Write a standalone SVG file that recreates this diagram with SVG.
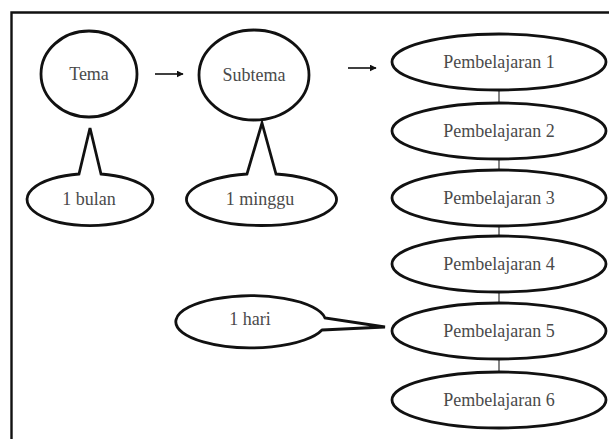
<svg xmlns="http://www.w3.org/2000/svg" width="609" height="439" viewBox="0 0 609 439">
<defs>
<style>
.n{fill:#fff;stroke:#111;stroke-width:2.8}
.t{font-family:'Liberation Serif',serif;font-size:18px;fill:#4a4a4a;text-anchor:middle;dominant-baseline:central}
.c{stroke:#333;stroke-width:1.2;fill:none}
.a{stroke:#111;stroke-width:1.6;fill:none}
</style>
<marker id="ah" viewBox="0 0 10 10" refX="9" refY="5" markerWidth="7" markerHeight="7" markerUnits="userSpaceOnUse" orient="auto">
<path d="M0,0 L10,5 L0,10 z" fill="#111"/>
</marker>
</defs>
<rect x="0" y="0" width="609" height="439" fill="#fff"/>
<path d="M11.5,450 V12.5 H620" fill="none" stroke="#111" stroke-width="2.4"/>
<g id="connectors">
<line class="a" x1="155" y1="74" x2="183" y2="74" marker-end="url(#ah)"/>
<line class="a" x1="348" y1="68" x2="376" y2="68" marker-end="url(#ah)"/>
<line class="c" x1="499" y1="90" x2="499" y2="103"/>
<line class="c" x1="499" y1="159" x2="499" y2="170"/>
<line class="c" x1="499" y1="226" x2="499" y2="236"/>
<line class="c" x1="499" y1="292" x2="499" y2="303"/>
<line class="c" x1="499" y1="359" x2="499" y2="372"/>
</g>
<g id="tema"><ellipse class="n" cx="89" cy="74" rx="48" ry="43"/><text class="t" x="89" y="74" font-family="Liberation Serif">Tema</text></g>
<g id="subtema"><ellipse class="n" cx="254" cy="75" rx="55" ry="45"/><text class="t" x="254" y="75" font-family="Liberation Serif">Subtema</text></g>
<g id="p1"><ellipse class="n" cx="499" cy="62" rx="107" ry="28"/><text class="t" x="499" y="62" font-family="Liberation Serif">Pembelajaran 1</text></g>
<g id="p2"><ellipse class="n" cx="499" cy="131" rx="107" ry="28"/><text class="t" x="499" y="131" font-family="Liberation Serif">Pembelajaran 2</text></g>
<g id="p3"><ellipse class="n" cx="499" cy="198" rx="107" ry="28"/><text class="t" x="499" y="198" font-family="Liberation Serif">Pembelajaran 3</text></g>
<g id="p4"><ellipse class="n" cx="499" cy="264" rx="107" ry="28"/><text class="t" x="499" y="264" font-family="Liberation Serif">Pembelajaran 4</text></g>
<g id="p5"><ellipse class="n" cx="499" cy="331" rx="107" ry="28"/><text class="t" x="499" y="331" font-family="Liberation Serif">Pembelajaran 5</text></g>
<g id="p6"><ellipse class="n" cx="499" cy="400" rx="107" ry="28"/><text class="t" x="499" y="400" font-family="Liberation Serif">Pembelajaran 6</text></g>
<g id="bulan">
<path class="n" d="M101,174 L90,128 L79,174 A63,26 0 1 0 101,174 Z"/>
<text class="t" x="89" y="199" font-family="Liberation Serif">1 bulan</text>
</g>
<g id="minggu">
<path class="n" d="M276,174 L262,123 L247,174 A75,26 0 1 0 276,174 Z"/>
<text class="t" x="260" y="199" font-family="Liberation Serif">1 minggu</text>
</g>
<g id="hari">
<path class="n" d="M322,330 L385,327 L325,318 A75,26 0 1 0 322,330 Z"/>
<text class="t" x="250" y="319" font-family="Liberation Serif">1 hari</text>
</g>
</svg>
